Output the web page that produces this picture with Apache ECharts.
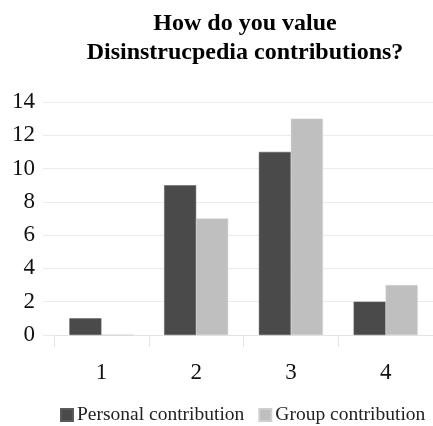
<!DOCTYPE html>
<html>
<head>
<meta charset="utf-8">
<script src="https://cdn.jsdelivr.net/npm/echarts@6/dist/echarts.min.js"></script>
<style>
  html, body { margin: 0; padding: 0; background: #fff; }
  #chart { width: 433px; height: 426px; }
</style>
</head>
<body>
<div id="chart"></div>
<script>
const categories = ['1', '2', '3', '4'];
const personal = [1, 9, 11, 2];
const group = [0, 7, 13, 3];
const seriesNames = ['Personal contribution', 'Group contribution'];

const serif = '"Liberation Serif", "Times New Roman", serif';
const chart = echarts.init(document.getElementById('chart'), null, { renderer: 'canvas' });

chart.setOption({
  backgroundColor: '#ffffff',
  animation: false,
  title: {
    text: 'How do you value\nDisinstrucpedia contributions?',
    left: 240,
    textAlign: 'center',
    top: 4,
    textStyle: {
      fontFamily: serif,
      fontWeight: 'bold',
      fontSize: 24,
      lineHeight: 29,
      color: '#000'
    }
  },
  legend: {
    data: seriesNames,
    bottom: 1,
    left: 60,
    width: 373,
    padding: 0,
    itemWidth: 12,
    itemHeight: 12,
    itemGap: 14,
    icon: 'rect',
    textStyle: { fontFamily: serif, fontSize: 19.5, color: '#222', padding: [0, 0, 0, -1] }
  },
  grid: { left: 54, top: 102, width: 384, height: 233, containLabel: false },
  xAxis: {
    type: 'category',
    data: categories,
    axisLine: { lineStyle: { color: '#e4e4e4', width: 1 } },
    axisTick: { show: true, length: 12, lineStyle: { color: '#e4e4e4' } },
    axisLabel: { fontFamily: serif, fontSize: 23, color: '#111', margin: 26 }
  },
  yAxis: {
    type: 'value',
    min: 0,
    max: 14,
    interval: 2,
    axisLine: { show: false },
    axisTick: { show: true, length: 11, lineStyle: { color: '#ebebeb' } },
    splitLine: { lineStyle: { color: '#ebebeb', width: 1 } },
    axisLabel: { fontFamily: serif, fontSize: 23, color: '#111', margin: 19 }
  },
  series: [
    {
      name: seriesNames[0],
      type: 'bar',
      data: personal,
      barWidth: 32,
      barGap: '0%',
      itemStyle: { color: '#4a4a4a', borderColor: '#5a5a5a', borderWidth: 0.5 }
    },
    {
      name: seriesNames[1],
      type: 'bar',
      data: group,
      barWidth: 32,
      barGap: '0%',
      itemStyle: { color: '#bfbfbf', borderColor: '#cfcfcf', borderWidth: 0.5 }
    }
  ]
});
</script>
</body>
</html>
